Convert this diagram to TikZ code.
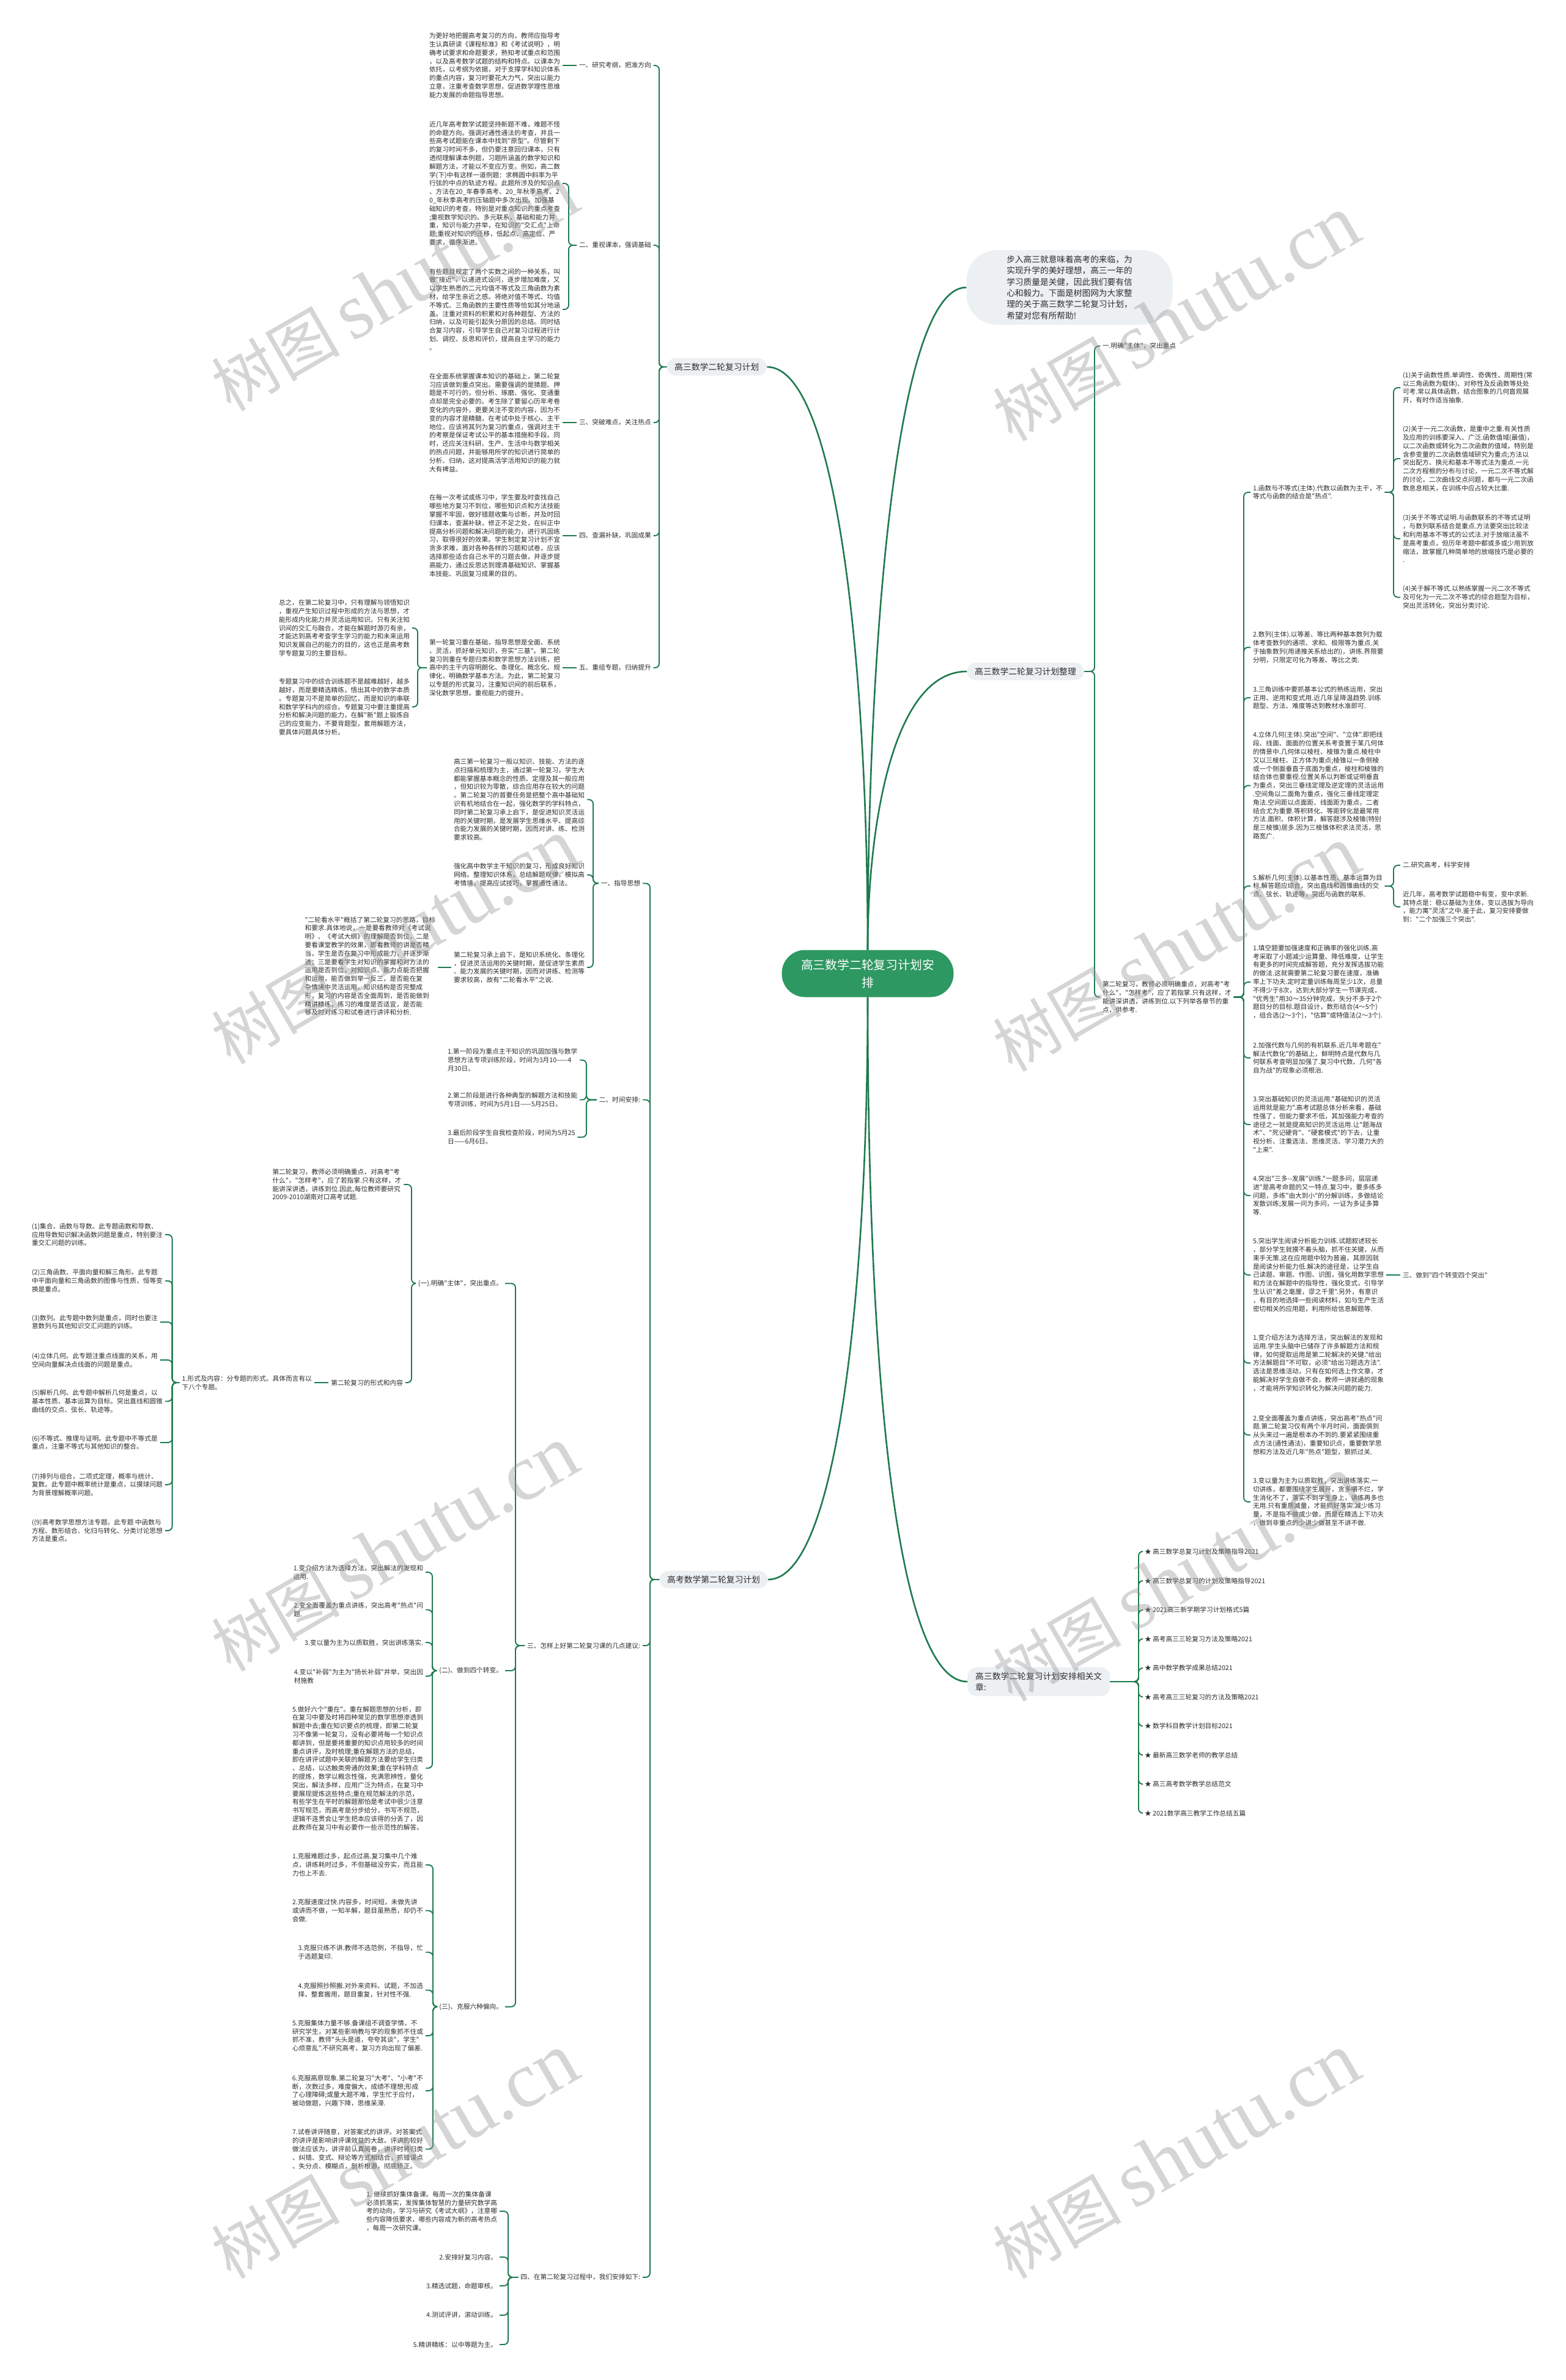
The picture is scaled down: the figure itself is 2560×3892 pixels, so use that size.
\documentclass[tikz,border=0pt]{standalone}
\usepackage{fontspec}
\setmainfont{Liberation Sans}
\newfontfamily\cjk{Noto Sans CJK SC}
\newfontfamily\wmser{Liberation Serif}
\definecolor{lineg}{RGB}{30,122,78}
\definecolor{rootg}{RGB}{46,152,98}
\definecolor{pillg}{RGB}{236,240,243}
\definecolor{txtc}{RGB}{45,45,45}
\definecolor{wmc}{RGB}{150,150,150}
\tikzset{
 tx/.style={font=\cjk\fontsize{10.7}{13.8}\selectfont,align=left,inner sep=0pt,outer sep=4pt,text=txtc},
 pill/.style={font=\cjk\fontsize{13.8}{18.4}\selectfont,align=left,fill=pillg,rounded corners=15pt,inner xsep=13pt,inner ysep=8pt,text=txtc},
 rootnode/.style={font=\cjk\fontsize{19.8}{29}\selectfont,align=center,fill=rootg,text=white,rounded corners=38pt,minimum width=281pt,minimum height=77pt,inner sep=0pt},
 conn/.style={draw=lineg,line width=1.9pt,rounded corners=7pt},
 mainc/.style={draw=lineg,line width=2.6pt},
 wm/.style={text=wmc,opacity=0.4,rotate=30,inner sep=0pt}
}
\newcommand{\Lc}[3]{\draw[conn] (#1.west) -- (#1.west -| #2) |- (#3.east);}
\newcommand{\Rc}[3]{\draw[conn] (#1.east) -- (#1.east -| #2) |- (#3.west);}
\newcommand{\Ls}[2]{\draw[conn] (#1.west) -- (#1.west -| #2.east);}
\newcommand{\Rs}[2]{\draw[conn] (#1.east) -- (#1.east -| #2.west);}
\begin{document}
\begin{tikzpicture}[x=1pt,y=-1pt]
\fill[white] (0,0) rectangle (2560,3892);
\useasboundingbox (0,0) rectangle (2560,3892);
% ---------------- root
\node[rootnode] (R) at (1419,1592) {高三数学二轮复习计划安\\排};
% ---------------- main pills
\node[pill,anchor=west] (A) at (1090,600) {高三数学二轮复习计划};
\node[pill,anchor=west] (B) at (1078,2583) {高考数学第二轮复习计划};
\node[pill,anchor=west] (Zp) at (1581,1098) {高三数学二轮复习计划整理};
\node[pill,anchor=west] (Rel) at (1582,2750) {高三数学二轮复习计划安排相关文\\章:};
\node[font=\cjk\fontsize{13.7}{18.4}\selectfont,align=left,fill=pillg,rounded corners=50pt,minimum width=337pt,minimum height=122pt,text=txtc] (I) at (1749,470) {步入高三就意味着高考的来临，为\\实现升学的美好理想，高三一年的\\学习质量是关健，因此我们要有信\\心和毅力。下面是树图网为大家整\\理的关于高三数学二轮复习计划，\\希望对您有所帮助!};
% ---------------- main curves
\draw[mainc] (R.north) .. controls (1419,1100) and (1370,600) .. (A.east);
\draw[mainc] (R.north) .. controls (1419,1100) and (1460,470) .. (I.west);
\draw[mainc] (R.north) .. controls (1419,1350) and (1460,1098) .. (Zp.west);
\draw[mainc] (R.south) .. controls (1419,2100) and (1370,2583) .. (B.east);
\draw[mainc] (R.south) .. controls (1419,2200) and (1460,2750) .. (Rel.west);
% ================= LEFT UPPER
\coordinate (bA) at (1078,0);
\coordinate (bA2) at (930,0);
\coordinate (bP6) at (683,0);
\node[tx,anchor=west] (A1) at (943,107) {一、研究考纲，把准方向};
\node[tx,anchor=west] (A2) at (943,401) {二、重视课本，强调基础};
\node[tx,anchor=west] (A3) at (943,691) {三、突破难点，关注热点};
\node[tx,anchor=west] (A4) at (943,876) {四、查漏补缺，巩固成果};
\node[tx,anchor=west] (A5) at (943,1092) {五、重组专题，归纳提升};
\node[tx,anchor=west] (P1) at (698,107) {为更好地把握高考复习的方向，教师应指导考\\生认真研读《课程标准》和《考试说明》，明\\确考试要求和命题要求，熟知考试重点和范围\\，以及高考数学试题的结构和特点。以课本为\\依托，以考纲为依据，对于支撑学科知识体系\\的重点内容，复习时要花大力气，突出以能力\\立意，注重考查数学思想，促进数学理性思维\\能力发展的命题指导思想。};
\node[tx,anchor=west] (P2) at (698,300) {近几年高考数学试题坚持新题不难，难题不怪\\的命题方向。强调对通性通法的考查，并且一\\些高考试题能在课本中找到"原型"。尽管剩下\\的复习时间不多，但仍要注意回归课本，只有\\透彻理解课本例题，习题所涵盖的数学知识和\\解题方法，才能以不变应万变。例如，高二数\\学(下)中有这样一道例题：求椭圆中斜率为平\\行弦的中点的轨迹方程。此题所涉及的知识点\\、方法在20\_年春季高考、20\_年秋季高考、2\\0\_年秋季高考的压轴题中多次出现。加强基\\础知识的考查，特别是对重点知识的重点考查\\;重视数学知识的。多元联系，基础和能力并\\重，知识与能力并举，在知识的"交汇点"上命\\题;重视对知识的迁移，低起点、高定位、严\\要求，循序渐进。};
\node[tx,anchor=west] (P3) at (698,506) {有些题目规定了两个实数之间的一种关系，叫\\做"接近"，以递进式设问，逐步增加难度，又\\以学生熟悉的二元均值不等式及三角函数为素\\材，给学生亲近之感。将绝对值不等式、均值\\不等式、三角函数的主要性质等恰如其分地涵\\盖。注重对资料的积累和对各种题型、方法的\\归纳，以及可能引起失分原因的总结。同时结\\合复习内容，引导学生自己对复习过程进行计\\划、调控、反思和评价，提高自主学习的能力\\。};
\node[tx,anchor=west] (P4) at (698,691) {在全面系统掌握课本知识的基础上，第二轮复\\习应该做到重点突出。需要强调的是猜题、押\\题是不可行的，但分析、琢磨、强化、变通重\\点却是完全必要的。考生除了要留心历年考卷\\变化的内容外，更要关注不变的内容，因为不\\变的内容才是精髓，在考试中处于核心、主干\\地位，应该将其列为复习的重点，强调对主干\\的考察是保证考试公平的基本措施和手段。同\\时，还应关注科研、生产、生活中与数学相关\\的热点问题，并能够用所学的知识进行简单的\\分析、归纳，这对提高活学活用知识的能力就\\大有裨益。};
\node[tx,anchor=west] (P5) at (698,876) {在每一次考试或练习中，学生要及时查找自己\\哪些地方复习不到位，哪些知识点和方法技能\\掌握不牢固，做好错题收集与诊断，并及时回\\归课本，查漏补缺，修正不足之处，在纠正中\\提高分析问题和解决问题的能力，进行巩固练\\习，取得很好的效果。学生制定复习计划不宜\\贪多求难，面对各种各样的习题和试卷，应该\\选择那些适合自己水平的习题去做，并逐步提\\高能力，通过反思达到理清基础知识、掌握基\\本技能、巩固复习成果的目的。};
\node[tx,anchor=west] (P6) at (698,1092) {第一轮复习重在基础，指导思想是全面、系统\\、灵活，抓好单元知识，夯实"三基"。第二轮\\复习则重在专题归类和数学思想方法训练，把\\高中的主干内容明朗化、条理化、概念化、规\\律化，明确数学基本方法。为此，第二轮复习\\以专题的形式复习，注重知识间的前后联系，\\深化数学思想，重视能力的提升。};
\node[tx,anchor=west] (P7) at (452,1027) {总之，在第二轮复习中，只有理解与领悟知识\\，重视产生知识过程中形成的方法与思想，才\\能形成内化能力并灵活运用知识。只有关注知\\识间的交汇与融合，才能在解题时游刃有余，\\才能达到高考考查学生学习的能力和未来运用\\知识发展自己的能力的目的，这也正是高考数\\学专题复习的主要目标。};
\node[tx,anchor=west] (P8) at (452,1156) {专题复习中的综合训练题不是越难越好，越多\\越好，而是要精选精练，悟出其中的数学本质\\。专题复习不是简单的回忆，而是知识的串联\\和数学学科内的综合。专题复习中要注重提高\\分析和解决问题的能力，在解"新"题上锻炼自\\己的应变能力，不要背题型，套用解题方法，\\要具体问题具体分析。};
\Lc{A}{bA}{A1}\Lc{A}{bA}{A2}\Lc{A}{bA}{A3}\Lc{A}{bA}{A4}\Lc{A}{bA}{A5}
\Ls{A1}{P1}\Lc{A2}{bA2}{P2}\Lc{A2}{bA2}{P3}\Ls{A3}{P4}\Ls{A4}{P5}\Ls{A5}{P6}
\Lc{P6}{bP6}{P7}\Lc{P6}{bP6}{P8}
% ================= LEFT LOWER
\coordinate (bB) at (1063,0);
\coordinate (bB1) at (970,0);
\coordinate (bB2) at (959,0);
\coordinate (bB3) at (843,0);
\coordinate (bB4) at (831,0);
\coordinate (bQ1) at (673,0);
\coordinate (bQ2) at (707,0);
\coordinate (bQ3) at (708,0);
\coordinate (bR3) at (281.6,0);
\node[tx,anchor=east] (B1) at (1051,1444.5) {一、指导思想};
\node[tx,anchor=east] (B2) at (1051,1798.5) {二、时间安排:};
\node[tx,anchor=east] (B3) at (1051,2691) {三、怎样上好第二轮复习课的几点建议:};
\node[tx,anchor=east] (B4) at (1051,3724) {四、在第二轮复习过程中，我们安排如下:};
\node[tx,anchor=west] (C1) at (738,1307.5) {高三第一轮复习一般以知识、技能、方法的逐\\点扫描和梳理为主，通过第一轮复习，学生大\\都能掌握基本概念的性质、定理及其一般应用\\，但知识较为零散，综合应用存在较大的问题\\。第二轮复习的首要任务是把整个高中基础知\\识有机地结合在一起，强化数学的学科特点，\\同时第二轮复习承上启下，是促进知识灵活运\\用的关键时期，是发展学生思维水平、提高综\\合能力发展的关键时期，因而对讲、练、检测\\要求较高。};
\node[tx,anchor=west] (C2) at (738,1430.7) {强化高中数学主干知识的复习，形成良好知识\\网络。整理知识体系，总结解题规律，模拟高\\考情境，提高应试技巧，掌握通性通法。};
\node[tx,anchor=west] (C3) at (738,1582) {第二轮复习承上启下，是知识系统化、条理化\\，促进灵活运用的关键时期，是促进学生素质\\、能力发展的关键时期，因而对讲练、检测等\\要求较高，故有"二轮看水平"之说.};
\node[tx,anchor=east] (P9) at (716,1580) {"二轮看水平"概括了第二轮复习的思路，目标\\和要求.具体地说，一是要看教师对《考试说\\明》、《考试大纲》的理解是否到位，二是\\要看课堂教学的效果，即看教师的讲是否精\\当，学生是否在复习中形成能力，并逐步渐\\进；三是要看学生对知识的掌握和对方法的\\运用是否到位，对知识点、能力点能否把握\\和运用，能否做到举一反三，是否能在复\\杂情境中灵活运用，知识结构是否完整成\\形，复习的内容是否全面周到，是否能做到\\精讲精练，练习的难度是否适宜，是否能\\够及时对练习和试卷进行讲评和分析.};
\node[tx,anchor=west] (T1) at (728,1733.5) {1.第一阶段为重点主干知识的巩固加强与数学\\思想方法专项训练阶段，时间为3月10——4\\月30日。};
\node[tx,anchor=west] (T2) at (728,1798.5) {2.第二阶段是进行各种典型的解题方法和技能\\专项训练，时间为5月1日——5月25日。};
\node[tx,anchor=west] (T3) at (728,1859.6) {3.最后阶段学生自我检查阶段，时间为5月25\\日——6月6日。};
\node[tx,anchor=east] (Q1) at (826,2098.7) {(一).明确"主体"，突出重点。};
\node[tx,anchor=east] (Q2) at (826,2732) {(二)、做到四个转变。};
\node[tx,anchor=east] (Q3) at (826,3281.6) {(三)、克服六种偏向。};
\node[tx,anchor=west] (R1) at (441.5,1937) {第二轮复习，教师必须明确重点，对高考"考\\什么"，"怎样考"，应了若指掌.只有这样，才\\能讲深讲透，讲练到位.因此,每位教师要研究\\2009-2010湖南对口高考试题.};
\node[tx,anchor=east] (R2) at (663,2261) {第二轮复习的形式和内容};
\node[tx,anchor=west] (R3) at (293.7,2261) {1.形式及内容：分专题的形式。具体而言有以\\下八个专题。};
\node[tx,anchor=west] (S1) at (48,2019) {(1)集合、函数与导数。此专题函数和导数、\\应用导数知识解决函数问题是重点，特别要注\\重交汇问题的训练。};
\node[tx,anchor=west] (S2) at (48,2094.6) {(2)三角函数、平面向量和解三角形。此专题\\中平面向量和三角函数的图像与性质，恒等变\\换是重点。};
\node[tx,anchor=west] (S3) at (48,2162) {(3)数列。此专题中数列是重点，同时也要注\\意数列与其他知识交汇问题的训练。};
\node[tx,anchor=west] (S4) at (48,2224) {(4)立体几何。此专题注重点线面的关系，用\\空间向量解决点线面的问题是重点。};
\node[tx,anchor=west] (S5) at (48,2291.5) {(5)解析几何。此专题中解析几何是重点，以\\基本性质、基本运算为目标。突出直线和圆锥\\曲线的交点、弦长、轨迹等。};
\node[tx,anchor=west] (S6) at (48,2359) {(6)不等式、推理与证明。此专题中不等式是\\重点，注重不等式与其他知识的整合。};
\node[tx,anchor=west] (S7) at (48,2427.8) {(7)排列与组合，二项式定理，概率与统计、\\复数。此专题中概率统计是重点，以摸球问题\\为背景理解概率问题。};
\node[tx,anchor=west] (S8) at (48,2503) {((9)高考数学思想方法专题。此专题 中函数与\\方程、数形结合、化归与转化、分类讨论思想\\方法是重点。};
\node[tx,anchor=east] (U1) at (696,2571) {1.变介绍方法为选择方法，突出解法的发现和\\运用.};
\node[tx,anchor=east] (U2) at (696,2632.5) {2.变全面覆盖为重点讲练，突出高考"热点"问\\题.};
\node[tx,anchor=east] (U3) at (696,2686) {3.变以量为主为以质取胜，突出讲练落实.};
\node[tx,anchor=east] (U4) at (696,2741) {4.变以"补弱"为主为"扬长补弱"并举，突出因\\材施教};
\node[tx,anchor=east] (U5) at (696,2891.5) {5.做好六个"重在"。重在解题思想的分析，即\\在复习中要及时将四种常见的数学思想渗透到\\解题中去;重在知识要点的梳理，即第二轮复\\习不像第一轮复习，没有必要将每一个知识点\\都讲到，但是要将重要的知识点用较多的时间\\重点讲评，及时梳理;重在解题方法的总结，\\即在讲评试题中关联的解题方法要给学生归类\\、总结，以达触类旁通的效果;重在学科特点\\的提炼，数学以概念性强，充满思辨性，量化\\突出，解法多样，应用广泛为特点，在复习中\\要展现提炼这些特点;重在规范解法的示范，\\有些学生在平时的解题那怕是考试中很少注意\\书写规范，而高考是分步给分，书写不规范，\\逻辑不连贯会让学生把本应该得的分丢了，因\\此教师在复习中有必要作一些示范性的解答。};
\node[tx,anchor=east] (V1) at (696,3049.6) {1.克服难题过多，起点过高.复习集中几个难\\点，讲练耗时过多，不但基础没夯实，而且能\\力也上不去.};
\node[tx,anchor=east] (V2) at (696,3124.5) {2.克服速度过快.内容多，时间短，未做先讲\\或讲而不做，一知半解，题目虽熟悉，却仍不\\会做.};
\node[tx,anchor=east] (V3) at (696,3192.5) {3.克服只练不讲.教师不选范例，不指导，忙\\于选题复印.};
\node[tx,anchor=east] (V4) at (696,3254.5) {4.克服照抄照搬.对外来资料、试题，不加选\\择，整套搬用，题目重复，针对性不强.};
\node[tx,anchor=east] (V5) at (696,3329) {5.克服集体力量不够.备课组不调查学情，不\\研究学生，对某些影响教与学的现象抓不住或\\抓不准，教师"头头是道，夸夸其谈"，学生"\\心烦意乱".不研究高考，复习方向出现了偏差.};
\node[tx,anchor=east] (V6) at (696,3419) {6.克服高原现象.第二轮复习"大考"、"小考"不\\断，次数过多，难度偏大，成绩不理想;形成\\了心理障碍;或量大题不难，学生忙于应付，\\被动做题，兴趣下降，思维呆滞.};
\node[tx,anchor=east] (V7) at (696,3514.5) {7.试卷讲评随意，对答案式的讲评。对答案式\\的讲评是影响讲评课效益的大敌。评讲的较好\\做法应该为，讲评前认真阅卷，讲评时将归类\\、纠错、变式、辩论等方式相结合，抓错误点\\、失分点、模糊点，剖析根源，彻底矫正。};
\node[tx,anchor=east] (W1) at (817,3616) {1. 继续抓好集体备课。每周一次的集体备课\\必须抓落实，发挥集体智慧的力量研究数学高\\考的动向，学习与研究《考试大纲》，注意哪\\些内容降低要求，哪些内容成为新的高考热点\\，每周一次研究课。};
\node[tx,anchor=east] (W2) at (817,3691) {2.安排好复习内容。};
\node[tx,anchor=east] (W3) at (817,3738) {3.精选试题，命题审核。};
\node[tx,anchor=east] (W4) at (817,3786) {4.测试评讲，滚动训练。};
\node[tx,anchor=east] (W5) at (817,3834) {5.精讲精练：以中等题为主。};
\Lc{B}{bB}{B1}\Lc{B}{bB}{B2}\Lc{B}{bB}{B3}\Lc{B}{bB}{B4}
\Lc{B1}{bB1}{C1}\Lc{B1}{bB1}{C2}\Lc{B1}{bB1}{C3}\Ls{C3}{P9}
\Lc{B2}{bB2}{T1}\Lc{B2}{bB2}{T2}\Lc{B2}{bB2}{T3}
\Lc{B3}{bB3}{Q1}\Lc{B3}{bB3}{Q2}\Lc{B3}{bB3}{Q3}
\Lc{Q1}{bQ1}{R1}\Lc{Q1}{bQ1}{R2}\Ls{R2}{R3}
\Lc{R3}{bR3}{S1}\Lc{R3}{bR3}{S2}\Lc{R3}{bR3}{S3}\Lc{R3}{bR3}{S4}
\Lc{R3}{bR3}{S5}\Lc{R3}{bR3}{S6}\Lc{R3}{bR3}{S7}\Lc{R3}{bR3}{S8}
\Lc{Q2}{bQ2}{U1}\Lc{Q2}{bQ2}{U2}\Lc{Q2}{bQ2}{U3}\Lc{Q2}{bQ2}{U4}\Lc{Q2}{bQ2}{U5}
\Lc{Q3}{bQ3}{V1}\Lc{Q3}{bQ3}{V2}\Lc{Q3}{bQ3}{V3}\Lc{Q3}{bQ3}{V4}
\Lc{Q3}{bQ3}{V5}\Lc{Q3}{bQ3}{V6}\Lc{Q3}{bQ3}{V7}
\Lc{B4}{bB4}{W1}\Lc{B4}{bB4}{W2}\Lc{B4}{bB4}{W3}\Lc{B4}{bB4}{W4}\Lc{B4}{bB4}{W5}
% ================= RIGHT
\coordinate (bZp) at (1790,0);
\coordinate (bY2) at (2034,0);
\coordinate (bZ1) at (2279,0);
\coordinate (bRel) at (1862,0);
\node[tx,anchor=west] (Y1) at (1799,566) {一.明确"主体"，突出重点};
\node[tx,anchor=west] (Y2) at (1799,1630.5) {第二轮复习，教师必须明确重点，对高考"考\\什么"，"怎样考"，应了若指掌.只有这样，才\\能讲深讲透，讲练到位.以下列举各章节的重\\点，供参考.};
\node[tx,anchor=west] (Z1) at (2045,805) {1.函数与不等式(主体).代数以函数为主干，不\\等式与函数的结合是"热点".};
\node[tx,anchor=west] (Z2) at (2045,1058.6) {2.数列(主体).以等差、等比两种基本数列为载\\体考查数列的通项、求和、极限等为重点.关\\于抽象数列(用递推关系给出的)，讲练.界限要\\分明，只限定可化为等差、等比之类.};
\node[tx,anchor=west] (Z3) at (2045,1141) {3.三角训练中要抓基本公式的熟练运用，突出\\正用、逆用和变式用.近几年呈降温趋势.训练\\题型、方法、难度等达到教材水准即可.};
\node[tx,anchor=west] (Z4) at (2045,1284.6) {4.立体几何(主体).突出"空间"、"立体".即把线\\段、线面、面面的位置关系考查置于某几何体\\的情景中.几何体以棱柱、棱锥为重点.棱柱中\\又以三棱柱、正方体为重点;棱锥以一条侧棱\\或一个侧面垂直于底面为重点，棱柱和棱锥的\\结合体也要重视.位置关系以判断或证明垂直\\为重点，突出三垂线定理及逆定理的灵活运用\\.空间角以二面角为重点，强化三垂线定理定\\角法.空间距以点面距、线面距为重点，二者\\结合尤为重要.等积转化、等距转化是最常用\\方法.面积、体积计算，解答题涉及棱锥(特别\\是三棱锥)居多.因为三棱锥体积求法灵活，思\\路宽广.};
\node[tx,anchor=west] (Z5) at (2045,1449) {5.解析几何(主体).以基本性质、基本运算为目\\标.解答题应综合，突出直线和圆锥曲线的交\\点、弦长、轨迹等，突出与函数的联系.};
\node[tx,anchor=west] (Z6) at (2045,1606) {1.填空题要加强速度和正确率的强化训练.高\\考采取了小题减少运算量、降低难度，让学生\\有更多的时间完成解答题，充分发挥选拔功能\\的做法.这就需要第二轮复习要在速度，准确\\率上下功夫.定时定量训练每周至少1次，总量\\不得少于8次，达到大部分学生一节课完成，\\"优秀生"用30～35分钟完成，失分不多于2个\\题目分的目标.题目设计，数形结合(4～5个)\\，组合选(2～3个)，"估算"或特值法(2～3个).};
\node[tx,anchor=west] (Z7) at (2045,1730) {2.加强代数与几何的有机联系.近几年考题在"\\解法代数化"的基础上，鲜明特点是代数与几\\何联系考查明显加强了.复习中代数、几何"各\\自为战"的现象必须根治.};
\node[tx,anchor=west] (Z8) at (2045,1839) {3.突出基础知识的灵活运用."基础知识的灵活\\运用就是能力".高考试题总体分析来看，基础\\性强了，但能力要求不低，其加强能力考查的\\途径之一就是提高知识的灵活运用.让"题海战\\术"、"死记硬背"、"硬套模式"的下去，让重\\视分析、注重选法、思维灵活、学习潜力大的\\"上来".};
\node[tx,anchor=west] (Z9) at (2045,1955) {4.突出"三多-{}-发展"训练."一题多问，层层递\\进"是高考命题的又一特点.复习中，要多练多\\问题，多练"由大到小"的分解训练，多做结论\\发散训练;发展一问为多问，一证为多证多算\\等.};
\node[tx,anchor=west] (Z10) at (2045,2085) {5.突出学生阅读分析能力训练.试题叙述较长\\，部分学生就摸不着头脑，抓不住关键，从而\\束手无策.这在应用题中较为普遍，其原因就\\是阅读分析能力低.解决的途径是，让学生自\\己读题、审题、作图、识图，强化用数学思想\\和方法在解题中的指导性，强化变式，引导学\\生认识"差之毫厘，谬之千里".另外，有意识\\，有目的地选择一些阅读材料，如与生产生活\\密切相关的应用题，利用所给信息解题等.};
\node[tx,anchor=west] (Z11) at (2045,2229) {1.变介绍方法为选择方法，突出解法的发现和\\运用.学生头脑中已储存了许多解题方法和规\\律，如何提取运用是第二轮解决的关键."给出\\方法解题目"不可取，必须"给出习题选方法".\\选法是思维活动，只有在如何选上作文章，才\\能解决好学生自做不会，教师一讲就通的现象\\，才能将所学知识转化为解决问题的能力.};
\node[tx,anchor=west] (Z12) at (2045,2346.6) {2.变全面覆盖为重点讲练，突出高考"热点"问\\题.第二轮复习仅有两个半月时间，面面俱到\\从头来过一遍是根本办不到的.要紧紧围绕重\\点方法(通性通法)，重要知识点，重要数学思\\想和方法及近几年"热点"题型，狠抓过关.};
\node[tx,anchor=west] (Z13) at (2045,2456) {3.变以量为主为以质取胜，突出讲练落实.一\\切讲练，都要围绕学生展开，贪多嚼不烂，学\\生消化不了，落实不到学生身上，讲练再多也\\无用.只有重质减量，才能抓好落实.减少练习\\量，不是指不做或少做，而是在精选上下功夫\\，做到非重点的少讲少做甚至不讲不做.};
\node[tx,anchor=west] (Z1a) at (2290,634) {(1)关于函数性质.单调性、奇偶性、周期性(常\\以三角函数为载体)、对称性及反函数等处处\\可考.常以具体函数，结合图象的几何直观展\\开，有时作适当抽象.};
\node[tx,anchor=west] (Z1b) at (2290,750) {(2)关于一元二次函数，是重中之重.有关性质\\及应用的训练要深入、广泛.函数值域(最值)，\\以二次函数或转化为二次函数的值域，特别是\\含参变量的二次函数值域研究为重点;方法以\\突出配方、换元和基本不等式法为重点.一元\\二次方程根的分布与讨论，一元二次不等式解\\的讨论，二次曲线交点问题，都与一元二次函\\数息息相关，在训练中应占较大比重.};
\node[tx,anchor=west] (Z1c) at (2290,881) {(3)关于不等式证明.与函数联系的不等式证明\\，与数列联系结合是重点.方法要突出比较法\\和利用基本不等式的公式法.对于放缩法虽不\\是高考重点，但历年考题中都或多或少用到放\\缩法，故掌握几种简单地的放缩技巧是必要的\\.};
\node[tx,anchor=west] (Z1d) at (2290,976.7) {(4)关于解不等式.以熟练掌握一元二次不等式\\及可化为一元二次不等式的综合题型为目标，\\突出灵活转化，突出分类讨论.};
\node[tx,anchor=west] (Z5a) at (2290,1415) {二.研究高考，科学安排};
\node[tx,anchor=west] (Z5b) at (2290,1483) {近几年，高考数学试题稳中有变，变中求新.\\其特点是：稳以基础为主体，变以选拔为导向\\，能力寓"灵活"之中.鉴于此，复习安排要做\\到："二个加强三个突出".};
\node[tx,anchor=west] (Z10a) at (2290,2085) {三、做到"四个转变四个突出"};
\Rc{Zp}{bZp}{Y1}\Rc{Zp}{bZp}{Y2}
\foreach \k in {Z1,Z2,Z3,Z4,Z5,Z6,Z7,Z8,Z9,Z10,Z11,Z12,Z13} {\Rc{Y2}{bY2}{\k}}
\foreach \k in {Z1a,Z1b,Z1c,Z1d} {\Rc{Z1}{bZ1}{\k}}
\Rc{Z5}{bZ1}{Z5a}\Rc{Z5}{bZ1}{Z5b}
\Rs{Z10}{Z10a}
% related list
\node[tx,anchor=west] (L1) at (1868,2537) {★ 高三数学总复习计划及策略指导2021};
\node[tx,anchor=west] (L2) at (1868,2585) {★ 高三数学总复习的计划及策略指导2021};
\node[tx,anchor=west] (L3) at (1868,2632.7) {★ 2021高三新学期学习计划格式5篇};
\node[tx,anchor=west] (L4) at (1868,2680) {★ 高考高三三轮复习方法及策略2021};
\node[tx,anchor=west] (L5) at (1868,2727.7) {★ 高中数学教学成果总结2021};
\node[tx,anchor=west] (L6) at (1868,2775) {★ 高考高三三轮复习的方法及策略2021};
\node[tx,anchor=west] (L7) at (1868,2822.7) {★ 数学科目教学计划目标2021};
\node[tx,anchor=west] (L8) at (1868,2870) {★ 最新高三数学老师的教学总结};
\node[tx,anchor=west] (L9) at (1868,2917.7) {★ 高三高考数学教学总结范文};
\node[tx,anchor=west] (L10) at (1868,2965) {★ 2021数学高三教学工作总结五篇};
\foreach \k in {L1,L2,L3,L4,L5,L6,L7,L8,L9,L10} {\Rc{Rel}{bRel}{\k}}
% ================= watermarks
\foreach \wx/\wy in {646/472,1924/521,646/1540,1924/1552,646/2533,1924/2582,646/3526,1924/3526}
 {\node[wm] at (\wx,\wy) {\cjk\fontsize{105}{105}\selectfont 树图\hspace{20pt}{\wmser\fontsize{130}{130}\selectfont shutu.cn}};}
\end{tikzpicture}
\end{document}
